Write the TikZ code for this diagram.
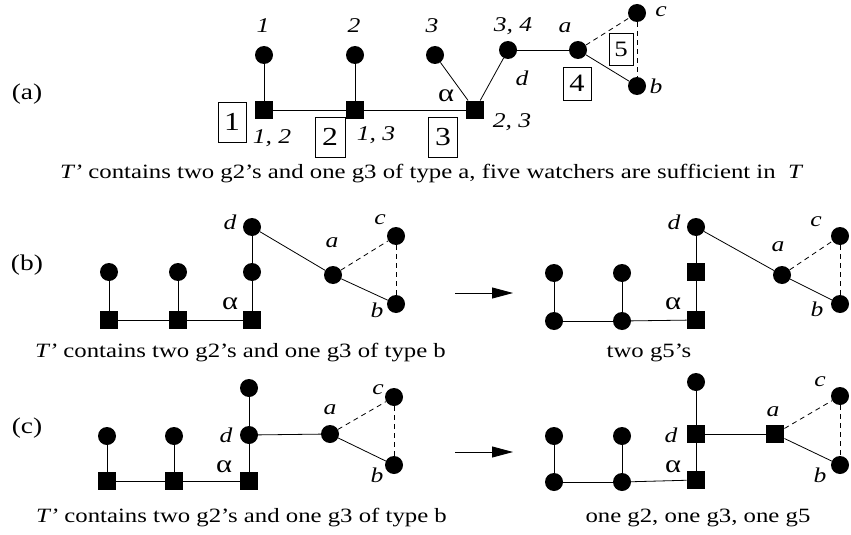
\documentclass[tikz,border=0pt]{standalone}
\usepackage{fontspec}
\setmainfont[FakeStretch=1.22]{Liberation Serif}
\usetikzlibrary{arrows.meta}
\begin{document}
\begin{tikzpicture}[x=1pt,y=-1pt,
  vdot/.style={circle,fill=black,draw=none,inner sep=0pt,minimum size=18pt},
  vsq/.style={rectangle,fill=black,draw=none,inner sep=0pt,minimum size=18.5pt},
  ln/.style={line width=0.8pt},
  dln/.style={line width=0.8pt,dash pattern=on 5pt off 4pt},
  vlab/.style={inner sep=0pt,font=\fontsize{21}{22}\selectfont\itshape},
  alab/.style={inner sep=0pt,font=\fontsize{25}{26}\selectfont},
  captext/.style={inner sep=0pt,anchor=base,font=\fontsize{20.3}{22}\selectfont},
  plab/.style={inner sep=0pt,font=\fontsize{22.5}{24}\selectfont},
  numbox/.style={draw=black,line width=0.8pt,inner sep=0pt,minimum width=28pt,minimum height=40pt,font=\fontsize{26}{27}\selectfont},
  arr/.style={line width=0.8pt,-{Triangle[length=21pt,width=11pt]}}
]
\useasboundingbox (0,0) rectangle (851,535);

% ---------- (a) ----------
\node[plab] (pa) at (27,94) {(a)};
\node[vdot] (a1c) at (264,55) {};
\node[vsq]  (a1s) at (264,110) {};
\node[vdot] (a2c) at (355,55) {};
\node[vsq]  (a2s) at (355,110) {};
\node[vdot] (a3c) at (435,55) {};
\node[vsq]  (a3s) at (475,110) {};
\node[vdot] (a34) at (508,50) {};
\node[vdot] (aa)  at (578,50) {};
\node[vdot] (ac)  at (637,13) {};
\node[vdot] (ab)  at (637,86) {};
\draw[ln] (a1c) -- (a1s);
\draw[ln] (a2c) -- (a2s);
\draw[ln] (a1s) -- (a2s);
\draw[ln] (a2s) -- (a3s);
\draw[ln] (a3c) -- (a3s);
\draw[ln] (a3s) -- (a34);
\draw[ln] (a34) -- (aa);
\draw[ln] (aa) -- (ab);
\draw[dln] (aa) -- (ac);
\draw[dln] (ac) -- (ab);
\node[vlab] (la1) at (263,26) {1};
\node[vlab] (la2) at (354,26) {2};
\node[vlab] (la3) at (432,26) {3};
\node[vlab] (la34) at (513,26) {3, 4};
\node[vlab] (laa) at (565,28) {a};
\node[vlab] (lad) at (522,78) {d};
\node[alab] (lal) at (446,96) {α};
\node[vlab] (la12) at (272,138) {1, 2};
\node[vlab] (la13) at (376,135) {1, 3};
\node[vlab] (la23) at (512,122) {2, 3};
\node[vlab] (lac) at (661,12) {c};
\node[vlab] (lab) at (656,86) {b};
\node[numbox] (bx1) at (232,122) {1};
\node[numbox,minimum width=30pt] (bx2) at (330,137) {2};
\node[numbox,minimum width=29pt] (bx3) at (443,137) {3};
\node[numbox,minimum height=33pt,font=\fontsize{25}{26}\selectfont] (bx4) at (577,83.5) {4};
\node[numbox,minimum width=24pt,minimum height=32pt,font=\fontsize{22}{23}\selectfont] (bx5) at (621,49) {5};
\node[captext,anchor=base west] (capa) at (60,178) {\textit{T’} contains two g2’s and one g3 of type a, five watchers are sufficient in~ \textit{T}};

% ---------- (b) left ----------
\node[plab] (pb) at (27,265) {(b)};
\node[vdot] (b1c) at (109,272) {};
\node[vsq]  (b1s) at (109,320) {};
\node[vdot] (b2c) at (178,272) {};
\node[vsq]  (b2s) at (178,320) {};
\node[vdot] (b3c) at (252,272) {};
\node[vsq]  (b3s) at (252,320) {};
\node[vdot] (bd)  at (252,227) {};
\node[vdot] (ba)  at (333,275) {};
\node[vdot] (bc)  at (396,236) {};
\node[vdot] (bb)  at (396,304) {};
\draw[ln] (b1c) -- (b1s);
\draw[ln] (b2c) -- (b2s);
\draw[ln] (b1s) -- (b2s);
\draw[ln] (b2s) -- (b3s);
\draw[ln] (b3s) -- (b3c);
\draw[ln] (b3c) -- (bd);
\draw[ln] (bd) -- (ba);
\draw[ln] (ba) -- (bb);
\draw[dln] (ba) -- (bc);
\draw[dln] (bc) -- (bb);
\node[vlab] (lbd) at (230,222) {d};
\node[alab] (lbal) at (230,304) {α};
\node[vlab] (lba) at (332,243) {a};
\node[vlab] (lbc) at (380,220) {c};
\node[vlab] (lbb) at (377,310) {b};
\node[captext,anchor=base west] (capbl) at (35,357) {\textit{T’} contains two g2’s and one g3 of type b};

% ---------- (b) right ----------
\coordinate (arb1) at (455,293);
\coordinate (arb2) at (513,293);
\draw[arr] (arb1) -- (arb2);
\node[vdot] (r1c) at (554,273) {};
\node[vdot] (r1b) at (554,321) {};
\node[vdot] (r2c) at (622,273) {};
\node[vdot] (r2b) at (622,321) {};
\node[vsq]  (rs2) at (696,272) {};
\node[vsq]  (rs1) at (696,320) {};
\node[vdot] (rd)  at (696,227) {};
\node[vdot] (ra)  at (782,275) {};
\node[vdot] (rc)  at (840,236) {};
\node[vdot] (rb)  at (840,304) {};
\draw[ln] (r1c) -- (r1b);
\draw[ln] (r2c) -- (r2b);
\draw[ln] (r1b) -- (r2b);
\draw[ln] (r2b) -- (rs1);
\draw[ln] (rs1) -- (rs2);
\draw[ln] (rs2) -- (rd);
\draw[ln] (rd) -- (ra);
\draw[ln] (ra) -- (rb);
\draw[dln] (ra) -- (rc);
\draw[dln] (rc) -- (rb);
\node[vlab] (lrd) at (674,222) {d};
\node[alab] (lral) at (673,304) {α};
\node[vlab] (lra) at (778,247) {a};
\node[vlab] (lrc) at (816,222) {c};
\node[vlab] (lrb) at (817,309) {b};
\node[captext] (capbr) at (649,357) {two g5’s};

% ---------- (c) left ----------
\node[plab] (pc) at (27,428) {(c)};
\node[vdot] (c1c) at (107,436) {};
\node[vsq]  (c1s) at (107,481) {};
\node[vdot] (c2c) at (174,436) {};
\node[vsq]  (c2s) at (174,481) {};
\node[vsq]  (c3s) at (249,481) {};
\node[vdot] (cd)  at (249,435) {};
\node[vdot] (ctop) at (249,388) {};
\node[vdot] (ca)  at (330,434) {};
\node[vdot] (cc)  at (394,397) {};
\node[vdot] (cb)  at (394,465) {};
\draw[ln] (c1c) -- (c1s);
\draw[ln] (c2c) -- (c2s);
\draw[ln] (c1s) -- (c2s);
\draw[ln] (c2s) -- (c3s);
\draw[ln] (c3s) -- (cd);
\draw[ln] (cd) -- (ctop);
\draw[ln] (cd) -- (ca);
\draw[ln] (ca) -- (cb);
\draw[dln] (ca) -- (cc);
\draw[dln] (cc) -- (cb);
\node[vlab] (lcd) at (226,435) {d};
\node[alab] (lcal) at (224,467) {α};
\node[vlab] (lca) at (330,410) {a};
\node[vlab] (lcc) at (378,390) {c};
\node[vlab] (lcb) at (377,475) {b};
\node[captext,anchor=base west] (capcl) at (36,522) {\textit{T’} contains two g2’s and one g3 of type b};

% ---------- (c) right ----------
\coordinate (arc1) at (455,452);
\coordinate (arc2) at (513,452);
\draw[arr] (arc1) -- (arc2);
\node[vdot] (s1c) at (554,436) {};
\node[vdot] (s1b) at (554,482) {};
\node[vdot] (s2c) at (622,436) {};
\node[vdot] (s2b) at (622,482) {};
\node[vsq]  (sal) at (696,480) {};
\node[vsq]  (sd)  at (696,434) {};
\node[vdot] (stop) at (696,382) {};
\node[vsq]  (sa)  at (775,434) {};
\node[vdot] (sc)  at (840,396) {};
\node[vdot] (sb)  at (840,465) {};
\draw[ln] (s1c) -- (s1b);
\draw[ln] (s2c) -- (s2b);
\draw[ln] (s1b) -- (s2b);
\draw[ln] (s2b) -- (sal);
\draw[ln] (sal) -- (sd);
\draw[ln] (sd) -- (stop);
\draw[ln] (sd) -- (sa);
\draw[ln] (sa) -- (sb);
\draw[dln] (sa) -- (sc);
\draw[dln] (sc) -- (sb);
\node[vlab] (lsd) at (671,435) {d};
\node[alab] (lsal) at (673,467) {α};
\node[vlab] (lsa) at (773,412) {a};
\node[vlab] (lsc) at (820,382) {c};
\node[vlab] (lsb) at (820,475) {b};
\node[captext] (capcr) at (698,522) {one g2, one g3, one g5};
\end{tikzpicture}
\end{document}
